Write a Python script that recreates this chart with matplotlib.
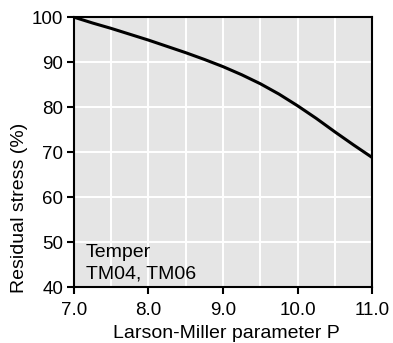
import matplotlib
matplotlib.use("Agg")
from matplotlib import pyplot as plt
from matplotlib.ticker import MultipleLocator

# values
lm_param = [7.0, 7.25, 7.5, 7.75, 8.0, 8.25, 8.5, 8.75, 9.0,
            9.25, 9.5, 9.75, 10.0, 10.25, 10.5, 10.75, 11.0]
residual_stress = [100.0, 98.7, 97.5, 96.2, 94.9, 93.5, 92.1, 90.6, 89.0,
                   87.2, 85.2, 82.9, 80.3, 77.5, 74.5, 71.6, 68.8]
x_ticks = [7.0, 8.0, 9.0, 10.0, 11.0]
x_labels = ["7.0", "8.0", "9.0", "10.0", "11.0"]
y_ticks = [40, 50, 60, 70, 80, 90, 100]

plt.rcParams["font.family"] = ["Liberation Sans", "DejaVu Sans"]

fig = plt.figure(figsize=(3.93, 3.43), dpi=100)
ax = fig.add_axes([0.188, 0.163, 0.759, 0.787])
ax.set_facecolor("#e5e5e5")

ax.plot(lm_param, residual_stress, color="black", linewidth=2.2, zorder=3)

ax.set_xlim(7.0, 11.0)
ax.set_ylim(40, 100)
ax.set_xticks(x_ticks)
ax.set_xticklabels(x_labels)
ax.set_yticks(y_ticks)
ax.xaxis.set_minor_locator(MultipleLocator(0.5))
ax.grid(True, which="both", axis="x", color="white", linewidth=1.4)
ax.grid(True, which="major", axis="y", color="white", linewidth=1.4)
ax.set_axisbelow(True)

ax.tick_params(axis="both", which="major", direction="out", length=5, width=1.5,
               labelsize=13.5, colors="black")
ax.tick_params(axis="x", which="major", pad=5.5)
ax.tick_params(axis="y", which="major", pad=2.5)
ax.tick_params(axis="x", which="minor", length=0)
for s in ax.spines.values():
    s.set_linewidth(1.5)
    s.set_color("black")

# axis titles placed like the reference (y title sits low)
fig.text(226 / 393, 1 - 334 / 343, "Larson-Miller parameter P", fontsize=14,
         ha="center", va="center")
fig.text(19.5 / 393, 1 - 208 / 343, "Residual stress (%)", fontsize=14,
         rotation=90, ha="center", va="center")

ax.text(7.16, 41.1, "Temper\nTM04, TM06", fontsize=14, ha="left", va="bottom",
        linespacing=1.3)

fig.savefig("out.png", dpi=100)
